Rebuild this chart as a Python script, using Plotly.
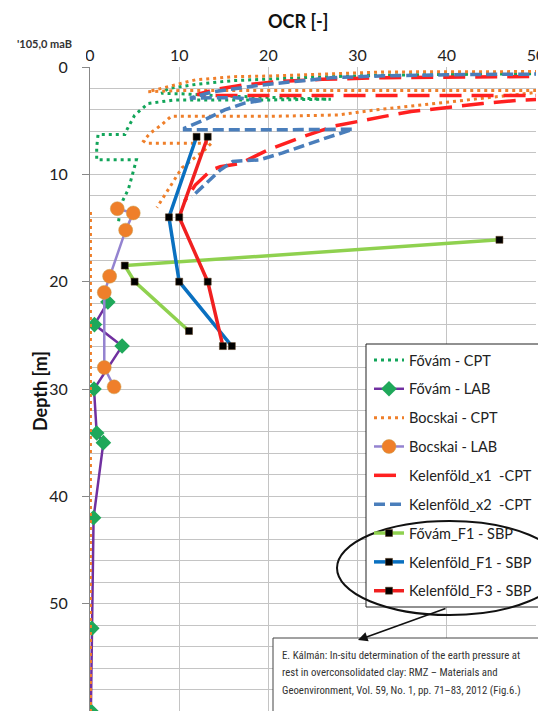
import plotly.graph_objects as go

# ---------------- data ----------------
fovam_cpt_ocr = [62, 50, 40, 33, 25, 20, 16, 12, 8.8, 8.0, 10.3, 15, 20, 27, 20, 14, 9.5, 6.5, 5.0, 4.1, 3.9, 2.5, 0.9,
                 0.75, 0.75, 3.0, 5.2, 4.7, 4.3, 3.7, 3.4, 3.2]
fovam_cpt_depth = [0.55, 0.62, 0.68, 0.75, 0.95, 1.1, 1.27, 1.6, 2.0, 2.45, 2.5, 2.7, 2.85, 3.0, 3.07, 3.1, 3.07, 3.4,
                   4.5, 5.9, 6.3, 6.3, 6.3, 7.5, 8.65, 8.65, 8.65, 10.2, 11.4, 12.4, 13.3, 14.4]

fovam_lab_ocr = [2.0, 0.5, 3.6, 0.45, 0.75, 1.5, 0.4, 0.2, 0.1]
fovam_lab_depth = [21.9, 24.0, 26.0, 30.0, 34.1, 35.0, 42.0, 52.3, 60.0]

bocskai_cpt_ocr = [62, 50, 40, 33, 20, 16.2, 11.8, 8.0, 6.5, 10, 20, 30, 40, 52, 48, 44, 40, 36, 32, 27.8, 20, 15, 9.1,
                   8.0, 6.7, 6.0, 6.3, 10, 13.6, 12.9, 10.3, 7.5, None, 0.05, 0.05]
bocskai_cpt_depth = [0.4, 0.44, 0.44, 0.46, 0.84, 0.9, 1.2, 2.0, 2.3, 2.2, 2.2, 2.2, 2.2, 2.2, 2.55, 2.9, 3.3, 3.65, 4.0,
                     4.47, 4.6, 4.6, 4.6, 5.4, 6.2, 6.9, 7.1, 7.1, 7.1, 7.7, 9.4, 13.1, None, 13.5, 60]

bocskai_lab_ocr = [3.06, 4.85, 4.0, 2.2, 1.6, 1.6, 2.7]
bocskai_lab_depth = [13.2, 13.6, 15.2, 19.5, 21.0, 28.0, 29.8]

kel_x1_ocr = [60, 50, 40, 33, 26, 21, 17, 14, 12, 13, 20, 30, 40, 50, 56, 52, 48, 44, 40, 36, 33, 27.4, 23.5, 20, 16.8,
              14.6, 13.6, 11.8, 10.6]
kel_x1_depth = [0.8, 0.85, 0.92, 1.0, 1.15, 1.35, 1.7, 2.1, 2.55, 2.65, 2.65, 2.65, 2.65, 2.65, 2.65, 2.95, 3.1, 3.4,
                3.8, 4.15, 4.6, 5.5, 6.6, 7.7, 9.0, 9.3, 9.6, 11.0, 12.5]

kel_x2_ocr = [60, 50, 40, 33, 27, 19, 13.8, 11.2, 16, 19.4, 17.4, 15.1, 12.9, 10.6, 10.6, 20, 29.5, 26.5, 21.6, 19, 16,
              14.6, 12.3, 11.4]
kel_x2_depth = [0.6, 0.65, 0.72, 0.82, 1.0, 1.7, 2.3, 2.9, 2.85, 3.1, 3.35, 4.0, 4.9, 5.7, 5.85, 5.85, 5.8, 6.6, 8.0,
                8.65, 8.8, 9.6, 11.4, 12.1]

fovam_f1_ocr = [45.9, 3.9, 5.0, 11.1]
fovam_f1_depth = [16.1, 18.5, 20.0, 24.6]

kel_f1_ocr = [11.95, 8.85, 10.0, 15.9]
kel_f1_depth = [6.5, 14.0, 20.0, 26.0]

kel_f3_ocr = [13.2, 10.0, 13.2, 14.9]
kel_f3_depth = [6.5, 14.0, 20.0, 26.0]

x_ticks = [0, 10, 20, 30, 40, 50]
y_ticks = [0, 10, 20, 30, 40, 50, 60]

citation_lines = ["E. Kálmán: In-situ determination of the earth pressure at",
                  "rest in overconsolidated clay: RMZ – Materials and",
                  "Geoenvironment, Vol. 59, No. 1, pp. 71–83, 2012 (Fig.6.)"]

# ---------------- figure ----------------
# page body adds an 8 px offset; positions below are given in screen pixels
OFF = 8
W, H = 546, 711
ML, MT = 90 - OFF, 67 - OFF
PW, PH = 446, 644
MR = W - ML - PW
MB = H - MT - PH


def px(xs):
    return (xs - OFF - ML) / PW


def py(ys):
    return (H - MB - (ys - OFF)) / PH


FONT = "Lato, Open Sans, sans-serif"
fig = go.Figure()

squares = dict(symbol="square", size=7, color="black", line=dict(color="#5a3a1a", width=0.5))

traces = [
    dict(name="Fővám - CPT", x=fovam_cpt_ocr, y=fovam_cpt_depth, mode="lines",
         line=dict(color="#12a55a", width=3, dash="3px,4px")),
    dict(name="Fővám - LAB", x=fovam_lab_ocr, y=fovam_lab_depth, mode="lines+markers",
         line=dict(color="#7030a0", width=2.5),
         marker=dict(symbol="diamond", size=12, color="#1fa85a", line=dict(width=0))),
    dict(name="Bocskai - CPT", x=bocskai_cpt_ocr, y=bocskai_cpt_depth, mode="lines",
         line=dict(color="#ef7f2a", width=3, dash="3px,4px")),
    dict(name="Bocskai - LAB", x=bocskai_lab_ocr, y=bocskai_lab_depth, mode="lines+markers",
         line=dict(color="#9483d0", width=2.5),
         marker=dict(symbol="circle", size=14, color="#ef7f2a", line=dict(width=0.5, color="#c8a050"))),
    dict(name="Kelenföld_x1  -CPT", x=kel_x1_ocr, y=kel_x1_depth, mode="lines",
         line=dict(color="#ff2020", width=3.5, dash="22px,10px")),
    dict(name="Kelenföld_x2  -CPT", x=kel_x2_ocr, y=kel_x2_depth, mode="lines",
         line=dict(color="#4a7ebb", width=3.5, dash="11px,5px")),
    dict(name="Fővám_F1 - SBP", x=fovam_f1_ocr, y=fovam_f1_depth, mode="lines+markers",
         line=dict(color="#8fd14f", width=3.5), marker=squares),
    dict(name="Kelenföld_F1 - SBP", x=kel_f1_ocr, y=kel_f1_depth, mode="lines+markers",
         line=dict(color="#0a70c0", width=3.5), marker=squares),
    dict(name="Kelenföld_F3 - SBP", x=kel_f3_ocr, y=kel_f3_depth, mode="lines+markers",
         line=dict(color="#f02020", width=3.5), marker=squares),
]
for i, t in enumerate(traces):
    fig.add_trace(go.Scatter(legendgroup=str(i), connectgaps=False, cliponaxis=True, **t))

fig.update_layout(
    width=W, height=H,
    margin=dict(l=ML, r=MR, t=MT, b=MB, autoexpand=False),
    paper_bgcolor="white", plot_bgcolor="white",
    font=dict(family=FONT, size=15, color="#222"),
    showlegend=True,
    legend=dict(x=px(369), y=py(344), xanchor="left", yanchor="top",
                bgcolor="rgba(0,0,0,0)", borderwidth=0,
                font=dict(family=FONT, size=14.5, color="#222"),
                traceorder="grouped", tracegroupgap=7, itemwidth=30),
    xaxis=dict(range=[0, 50], side="top", tickvals=x_ticks, ticks="",
               showgrid=True, gridcolor="#c4c4c4", gridwidth=1, zeroline=False,
               showline=False, tickfont=dict(size=16), ticklabelstandoff=2),
    yaxis=dict(range=[60, 0], tickvals=y_ticks, ticks="outside", ticklen=7, tickcolor="#888",
               showgrid=True, gridcolor="#c4c4c4", gridwidth=1, zeroline=False,
               showline=True, linecolor="#888", linewidth=1.2, tickfont=dict(size=16),
               ticklabelstandoff=11,
               minor=dict(dtick=2, showgrid=True, gridcolor="#c4c4c4", gridwidth=1, ticks="")),
)

# legend background box
fig.add_shape(type="rect", xref="paper", yref="paper", x0=px(366), x1=px(560), y0=py(607), y1=py(344),
              fillcolor="white", line=dict(color="#222", width=1), layer="above")
# ellipse round the SBP entries
fig.add_shape(type="circle", xref="paper", yref="paper", x0=px(337), x1=px(562), y0=py(615), y1=py(521),
              line=dict(color="#111", width=2), layer="above")
# white patch behind the elevation label
fig.add_shape(type="rect", xref="paper", yref="paper", x0=px(8), x1=px(86), y0=py(62), y1=py(34),
              fillcolor="white", line=dict(width=0), layer="above")

fig.add_annotation(text="<b>OCR [-]</b>", xref="paper", yref="paper", x=px(298), y=py(21),
                   xanchor="center", yanchor="middle",
                   showarrow=False, font=dict(size=18, family=FONT, color="#111"))
fig.add_annotation(text="<b>Depth [m]</b>", xref="paper", yref="paper", x=px(40), y=py(391),
                   xanchor="center", yanchor="middle",
                   showarrow=False, textangle=-90, font=dict(size=18, family=FONT, color="#111"))
fig.add_annotation(text="<b>'105,0 maB</b>", xref="paper", yref="paper", x=px(74), y=py(44),
                   xanchor="right", yanchor="middle", showarrow=False,
                   font=dict(size=11, family=FONT, color="#333"))

# citation box
fig.add_shape(type="rect", xref="paper", yref="paper", x0=px(273), x1=px(544), y0=py(712), y1=py(638),
              fillcolor="white", line=dict(color="#444", width=1), layer="above")
for k, line_text in enumerate(citation_lines):
    fig.add_annotation(text=line_text, xref="paper", yref="paper", x=px(280), y=py(655 + 17.5 * k),
                       xanchor="left", yanchor="middle", showarrow=False,
                       font=dict(size=10.8, family="Liberation Sans Narrow, Roboto Condensed, sans-serif",
                                 color="#333"))
# arrow from ellipse to citation
fig.add_annotation(text="", xref="paper", yref="paper", x=px(358), y=py(640),
                   ax=447 - 358, ay=608 - 640, showarrow=True, arrowhead=2, arrowsize=1.2,
                   arrowwidth=1.6, arrowcolor="#111")

fig.write_html("out.html")
